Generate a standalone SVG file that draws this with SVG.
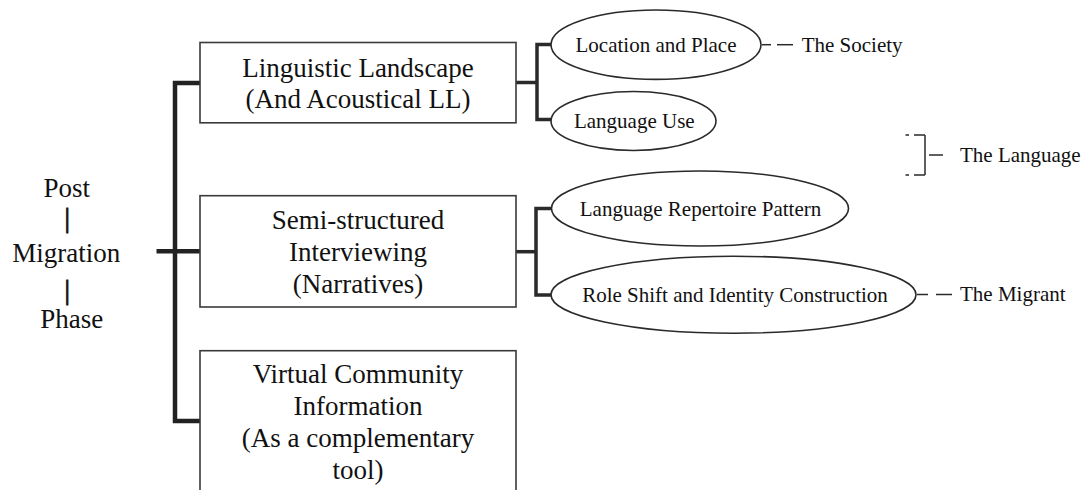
<svg xmlns="http://www.w3.org/2000/svg" width="1089" height="490" viewBox="0 0 1089 490">
<style>
.bx{fill:#fff;stroke:#3a3a3a;stroke-width:1.6}
.el{fill:#fff;stroke:#2a2a2a;stroke-width:1.6}
.t27{font-family:"Liberation Serif","Times New Roman",serif;font-size:27px;fill:#111;text-anchor:middle}
.bar{stroke:#111;stroke-width:0.9}
.t21{font-family:"Liberation Serif","Times New Roman",serif;font-size:21px;fill:#111;text-anchor:middle}
.t21s{font-family:"Liberation Serif","Times New Roman",serif;font-size:21px;fill:#111}
.trunk{fill:none;stroke:#222;stroke-width:4.5;stroke-linejoin:miter}
.br{fill:none;stroke:#2a2a2a;stroke-width:3.5;stroke-linejoin:miter}
.dl{fill:none;stroke:#2a2a2a;stroke-width:1.5}
</style>
<rect width="1089" height="490" fill="#fff"/>
<g id="connectors">
<path class="trunk" d="M200,83 H175 V421 H200"/>
<path class="trunk" d="M156.5,251.3 H200"/>
<path class="br" d="M516,82.5 H537"/>
<path class="br" d="M551,44.5 H537 V119.5 H551"/>
<path class="br" d="M516,251.7 H536"/>
<path class="br" d="M551,208.5 H536 V295 H551"/>
<line class="dl" x1="762" y1="44.7" x2="771" y2="44.7"/>
<line class="dl" x1="777" y1="44.7" x2="793" y2="44.7"/>
<line class="dl" x1="917" y1="294.5" x2="928" y2="294.5"/>
<line class="dl" x1="936" y1="294.5" x2="952" y2="294.5"/>
<line class="dl" x1="905.5" y1="135" x2="909" y2="135"/>
<line class="dl" x1="914" y1="135" x2="925" y2="135"/>
<line class="dl" x1="925" y1="135" x2="925" y2="175"/>
<line class="dl" x1="905.5" y1="175" x2="909" y2="175"/>
<line class="dl" x1="914" y1="175" x2="925" y2="175"/>
<line class="dl" x1="929" y1="155" x2="943" y2="155"/>
</g>
<g id="root">
<text class="t27" x="66.7" y="196.7">Post</text>
<text class="t27 bar" x="67.3" y="226.5">|</text>
<text class="t27" x="66.2" y="261.7">Migration</text>
<text class="t27 bar" x="67.3" y="299">|</text>
<text class="t27" x="71.7" y="328.3">Phase</text>
</g>
<g id="box-ll">
<rect class="bx" x="200" y="42.5" width="316" height="80.3"/>
<text class="t27" x="358" y="76.7">Linguistic Landscape</text>
<text class="t27" x="358" y="107.7">(And Acoustical LL)</text>
</g>
<g id="box-interview">
<rect class="bx" x="200" y="195.7" width="316" height="111.3"/>
<text class="t27" x="358" y="229.3">Semi-structured</text>
<text class="t27" x="358" y="260.7">Interviewing</text>
<text class="t27" x="358" y="293">(Narratives)</text>
</g>
<g id="box-virtual">
<rect class="bx" x="200" y="350.7" width="316" height="160"/>
<text class="t27" x="358" y="382.7">Virtual Community</text>
<text class="t27" x="358" y="415">Information</text>
<text class="t27" x="358" y="447">(As a complementary</text>
<text class="t27" x="358" y="479">tool)</text>
</g>
<g id="el-location">
<ellipse class="el" cx="656" cy="44.7" rx="105" ry="34.7"/>
<text class="t21" x="656" y="52.3">Location and Place</text>
</g>
<g id="el-languse">
<ellipse class="el" cx="633.5" cy="121" rx="82.5" ry="29.5"/>
<text class="t21" x="634.3" y="127.7">Language Use</text>
</g>
<g id="el-repertoire">
<ellipse class="el" cx="700" cy="208.5" rx="148.5" ry="37.5"/>
<text class="t21" x="700.5" y="215.5">Language Repertoire Pattern</text>
</g>
<g id="el-role">
<ellipse class="el" cx="733.5" cy="294.7" rx="182.5" ry="38.5"/>
<text class="t21" x="735" y="301.7">Role Shift and Identity Construction</text>
</g>
<g id="lbl-society"><text class="t21s" x="801.7" y="51.7">The Society</text></g>
<g id="lbl-language"><text class="t21s" x="960" y="161.7">The Language</text></g>
<g id="lbl-migrant"><text class="t21s" x="960" y="300.5">The Migrant</text></g>
</svg>
